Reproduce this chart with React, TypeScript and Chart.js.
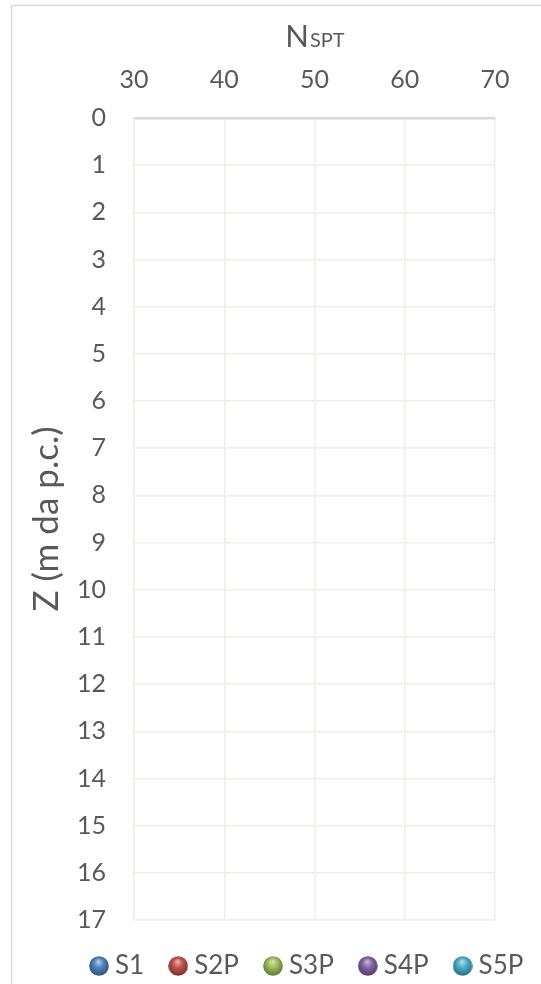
import React, { useEffect, useRef } from "react";
import { Chart, registerables } from "chart.js";

Chart.register(...registerables);

// ---- data ----
const seriesNames = ["S1", "S2P", "S3P", "S4P", "S5P"];
const seriesColors = ["#4F81BD", "#C0504D", "#9BBB59", "#8064A2", "#4BACC6"];
// No points fall inside the visible window of the reference chart
const s1: { x: number; y: number }[] = [];
const s2p: { x: number; y: number }[] = [];
const s3p: { x: number; y: number }[] = [];
const s4p: { x: number; y: number }[] = [];
const s5p: { x: number; y: number }[] = [];
const seriesData = [s1, s2p, s3p, s4p, s5p];

const xMin = 30;
const xMax = 70;
const xStep = 10;
const zMin = 0;
const zMax = 17;
const zStep = 1;

const FONT = "Lato, 'Open Sans', sans-serif";
const TEXT = "#595959";
const GRID = "#efeee8";
const LEGEND_PAD = 31;
const LEGEND_START = 96;

function shade(hex: string, f: number) {
  const n = parseInt(hex.slice(1), 16);
  let r = (n >> 16) & 255, g = (n >> 8) & 255, b = n & 255;
  if (f >= 0) {
    r = r + (255 - r) * f; g = g + (255 - g) * f; b = b + (255 - b) * f;
  } else {
    r = r * (1 + f); g = g * (1 + f); b = b * (1 + f);
  }
  return `rgb(${Math.round(r)},${Math.round(g)},${Math.round(b)})`;
}

function makeSphere(color: string, d: number) {
  const c = document.createElement("canvas");
  c.width = d;
  c.height = d;
  const ctx = c.getContext("2d")!;
  const r = d / 2;
  const g = ctx.createRadialGradient(r * 0.95, r * 0.55, r * 0.05, r, r * 0.9, r * 1.05);
  g.addColorStop(0, shade(color, 0.55));
  g.addColorStop(0.45, color);
  g.addColorStop(1, shade(color, -0.35));
  ctx.fillStyle = g;
  ctx.beginPath();
  ctx.arc(r, r, r - 0.2, 0, Math.PI * 2);
  ctx.fill();
  return c;
}

const frameAndTitle = {
  id: "frameAndTitle",
  beforeDraw(chart: any) {
    const ctx = chart.ctx;
    ctx.save();
    ctx.fillStyle = "#ffffff";
    ctx.fillRect(0, 0, chart.width, chart.height);
    ctx.strokeStyle = "#d9d9d9";
    ctx.lineWidth = 1.5;
    ctx.beginPath();
    ctx.moveTo(11.5, chart.height);
    ctx.lineTo(11.5, 5.5);
    ctx.lineTo(chart.width, 5.5);
    ctx.stroke();
    ctx.restore();
  },
  afterDraw(chart: any) {
    const ctx = chart.ctx;
    const area = chart.chartArea;
    const cx = (area.left + area.right) / 2;
    ctx.save();
    ctx.fillStyle = TEXT;
    ctx.textBaseline = "alphabetic";
    ctx.textAlign = "left";
    const big = `31px ${FONT}`;
    const small = `20px ${FONT}`;
    ctx.font = big;
    const wN = ctx.measureText("N").width;
    ctx.font = small;
    const wS = ctx.measureText("SPT").width;
    const x0 = cx - (wN + wS) / 2;
    const base = 47;
    ctx.font = big;
    ctx.fillText("N", x0, base);
    ctx.font = small;
    ctx.fillText("SPT", x0 + wN + 1, base);
    ctx.restore();
  },
};

const legendShift = {
  id: "legendShift",
  afterLayout(chart: any) {
    const lg = chart.legend;
    if (!lg || !lg.lineWidths) return;
    const start = (lg.left + LEGEND_PAD + lg.right - lg.lineWidths[0]) / 2;
    const dx = LEGEND_START - start;
    lg.left += dx;
    lg.right += dx;
    lg.top += 2;
    lg.bottom += 2;
  },
};

export default function App() {
  const ref = useRef<HTMLCanvasElement | null>(null);

  useEffect(() => {
    if (!ref.current) return;
    const datasets = seriesNames.map((name, i) => ({
      label: name,
      data: seriesData[i],
      backgroundColor: seriesColors[i],
      borderColor: seriesColors[i],
      pointStyle: makeSphere(seriesColors[i], 20) as any,
      pointRadius: 10,
      showLine: false,
    }));

    const chart = new Chart(ref.current, {
      type: "scatter",
      data: { datasets },
      plugins: [frameAndTitle, legendShift],
      options: {
        responsive: false,
        animation: false,
        layout: { padding: { left: 0, right: 0, top: 0, bottom: -3 } },
        plugins: {
          title: { display: false },
          tooltip: { enabled: false },
          legend: {
            display: true,
            position: "bottom",
            labels: {
              usePointStyle: true,
              pointStyleWidth: 6,
              padding: LEGEND_PAD,
              color: TEXT,
              font: { family: FONT, size: 26 },
            },
          },
        },
        scales: {
          x: {
            type: "linear",
            position: "top",
            min: xMin,
            max: xMax,
            afterFit: (s: any) => {
              s.height = 118;
            },
            ticks: {
              stepSize: xStep,
              padding: 23,
              color: TEXT,
              font: { family: FONT, size: 25 },
            },
            grid: { color: GRID, lineWidth: 1.5, drawTicks: false },
            border: { display: true, color: "#d9d9d9", width: 2.5 },
            title: { display: false },
          },
          y: {
            type: "linear",
            reverse: true,
            min: zMin,
            max: zMax,
            afterFit: (s: any) => {
              s.width = 134;
            },
            ticks: {
              stepSize: zStep,
              padding: 28,
              color: TEXT,
              font: { family: FONT, size: 25 },
            },
            grid: { color: GRID, lineWidth: 1.5, drawTicks: false },
            border: { display: true, color: GRID, width: 1.5 },
            title: {
              display: true,
              text: "Z (m da p.c.)",
              color: TEXT,
              font: { family: FONT, size: 35 },
              padding: { top: 26, bottom: 0 },
            },
          },
          // empty spacer on the right side of the plot
          yRight: {
            type: "linear",
            position: "right",
            display: true,
            min: zMin,
            max: zMax,
            afterFit: (s: any) => {
              s.width = 46;
            },
            ticks: { display: false },
            grid: { display: false, drawTicks: false },
            border: { display: false },
            title: { display: false },
          },
        },
      },
    });
    return () => chart.destroy();
  }, []);

  return (
    <div style={{ position: "fixed", left: 0, top: 0, width: 541, height: 984, background: "#fff" }}>
      <canvas ref={ref} width={541} height={984} style={{ width: 541, height: 984, display: "block" }} />
    </div>
  );
}
